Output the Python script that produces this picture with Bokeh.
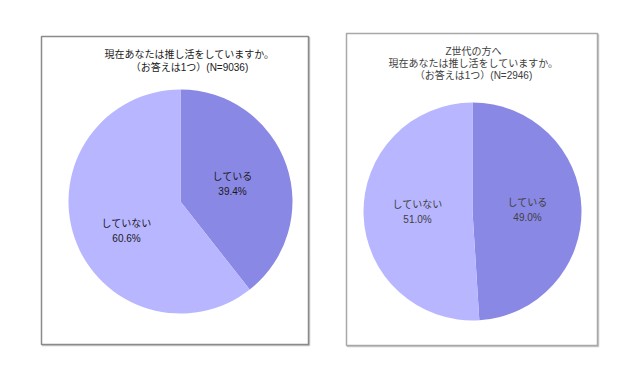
import math
from bokeh.plotting import figure
from bokeh.models import Range1d
from bokeh.core.properties import value
from bokeh.embed import file_html
from bokeh.resources import INLINE

# ---- data ----
categories = ["している", "していない"]
left_values = [39.4, 60.6]
right_values = [49.0, 51.0]
left_title = ["現在あなたは推し活をしていますか。", "（お答えは1つ）(N=9036)"]
right_title = ["Z世代の方へ", "現在あなたは推し活をしていますか。", "（お答えは1つ）(N=2946)"]
slice_colors = ["#8a88e5", "#b8b6ff"]

W, H = 628, 359
FONT = value("Liberation Sans, Noto Sans CJK JP")

p = figure(width=W, height=H, output_backend="svg", toolbar_location=None,
           x_range=Range1d(0, W), y_range=Range1d(0, H), min_border=0)
p.axis.visible = False
p.grid.visible = False
p.outline_line_color = None
p.background_fill_color = "white"
p.border_fill_color = "white"


def X(px):
    return px


def Y(py):
    return H - py


def panel(box, border, title, title_y, title_cx, center, radius, vals, label_pos, txt_color):
    x0, y0, x1, y1 = box
    # shadow + box
    p.quad(left=[X(x0) + 1], right=[X(x1) + 1], top=[Y(y0) - 1], bottom=[Y(y1) - 1],
           fill_color=None, line_color="#c8c8c8", line_width=1.5)
    p.quad(left=[X(x0)], right=[X(x1)], top=[Y(y0)], bottom=[Y(y1)],
           fill_color="white", line_color=border, line_width=1.5)
    for i, t in enumerate(title):
        p.text(x=[X(title_cx)], y=[Y(title_y[i])], text=[t], text_font=FONT,
               text_font_size="10px", text_align="center", text_baseline="middle",
               text_color=txt_color)
    total = sum(vals)
    start = math.pi / 2
    cx, cy = center
    for i, v in enumerate(vals):
        end = start - 2 * math.pi * v / total
        p.wedge(x=[X(cx)], y=[Y(cy)], radius=radius, start_angle=[end], end_angle=[start],
                fill_color=slice_colors[i], line_color=None)
        start = end
    for i, v in enumerate(vals):
        lx, ly = label_pos[i]
        p.text(x=[X(lx)], y=[Y(ly)], text=[categories[i]], text_font=FONT,
               text_font_size="10px", text_align="center", text_baseline="middle",
               text_color=txt_color)
        p.text(x=[X(lx)], y=[Y(ly + 15)], text=[f"{v:.1f}%"], text_font=FONT,
               text_font_size="10px", text_align="center", text_baseline="middle",
               text_color=txt_color)


panel((41, 36, 308, 344), "#8a8a8a", left_title, [54, 67], 189, (180, 201), 112,
      left_values, [(232, 176), (126, 223)], "#1a1a1a")
panel((346, 33, 597, 345), "#a8a8a8", right_title, [51, 63, 75], 473, (472, 211), 109,
      right_values, [(527, 202), (417, 204)], "#404040")

open("out.html", "w").write(file_html(p, INLINE))
